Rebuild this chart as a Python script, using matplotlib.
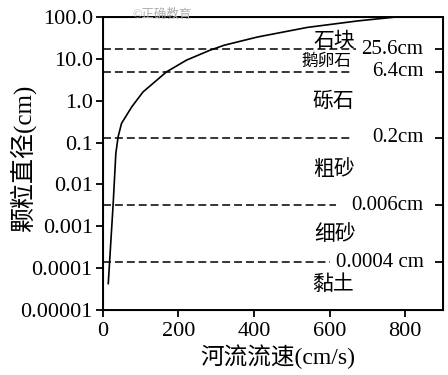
import matplotlib.pyplot as plt
import numpy as np

plt.rcParams['font.family'] = ['Liberation Serif', 'Noto Sans CJK SC']

# curve: flow speed (cm/s) vs grain diameter (cm)
speed = [15, 28, 35, 41, 50, 77, 107, 169, 222, 284, 321, 409, 541, 674, 779]
diameter = [4.3e-5, 0.0035, 0.055, 0.137, 0.286, 0.71, 1.62, 4.87, 9.3, 16, 21, 33, 56, 80, 100]

# boundary lines (drawn position), their labels and where the dashes stop
bound_y = [16.7, 4.87, 0.13, 0.0032, 0.00014]
bound_lbl = ['25.6cm', '6.4cm', '0.2cm', '0.006cm', '0.0004 cm']
bound_end = [670, 662, 655, 618, 602]

# grain classes between the lines
cls_names = ['石块', '鹅卵石', '砾石', '粗砂', '细砂', '黏土']
cls_x = [612, 591, 609, 612, 615, 609]
cls_y = [24.9, 8.3, 0.92, 0.022, 6.2e-4, 4.0e-5]
cls_size = [15, 12, 15, 15, 15, 15]

yticks = [100, 10, 1, 0.1, 0.01, 0.001, 0.0001, 0.00001]
ytick_lbl = ['100.0', '10.0', '1.0', '0.1', '0.01', '0.001', '0.0001', '0.00001']

fig = plt.figure(figsize=(4.48, 3.75), dpi=100)
ax = fig.add_axes([0.229, 0.173, 0.76, 0.782])

ax.plot(speed, diameter, color='black', lw=1.2)
for y, x_end in zip(bound_y, bound_end):
    ax.plot([0, x_end], [y, y], color='black', lw=1.1, dashes=(5.2, 2.6))
for y, lbl in zip(bound_y, bound_lbl):
    ax.text(848, y, lbl, ha='right', va='center', fontsize=15)
for name, x, y, s in zip(cls_names, cls_x, cls_y, cls_size):
    ax.text(x, y, name, ha='center', va='center', fontsize=s)

ax.set_yscale('log')
ax.set_xlim(0, 900)
ax.set_ylim(1e-5, 100)
ax.set_yticks(yticks)
ax.set_yticklabels(ytick_lbl)
ax.minorticks_off()
ax.set_xticks([0, 200, 400, 600, 800])
ax.set_xticks([100, 300, 500, 700, 900], minor=True)
ax.tick_params(axis='both', labelsize=16, width=1.3, length=5, direction='out')
ax.tick_params(axis='x', which='minor', width=1.3, length=5, direction='out')
ax.tick_params(axis='y', pad=2)
for sp in ax.spines.values():
    sp.set_linewidth(1.4)

# short inward ticks on the right edge at the boundary lines
ax2 = ax.twinx()
ax2.set_yscale('log')
ax2.set_ylim(1e-5, 100)
ax2.set_yticks(bound_y)
ax2.minorticks_off()
ax2.tick_params(axis='y', direction='in', length=6, width=1.3, labelright=False)

fig.text(0.05, 0.579, '颗粒直径(cm)', rotation=90, ha='center', va='center', fontsize=18)
fig.text(0.619, 0.048, '河流流速(cm/s)', ha='center', va='center', fontsize=17)
fig.text(0.362, 0.96, '©正确教育', ha='center', va='center', fontsize=9, color='#b0b0b0')

fig.savefig('out.png', dpi=100)
